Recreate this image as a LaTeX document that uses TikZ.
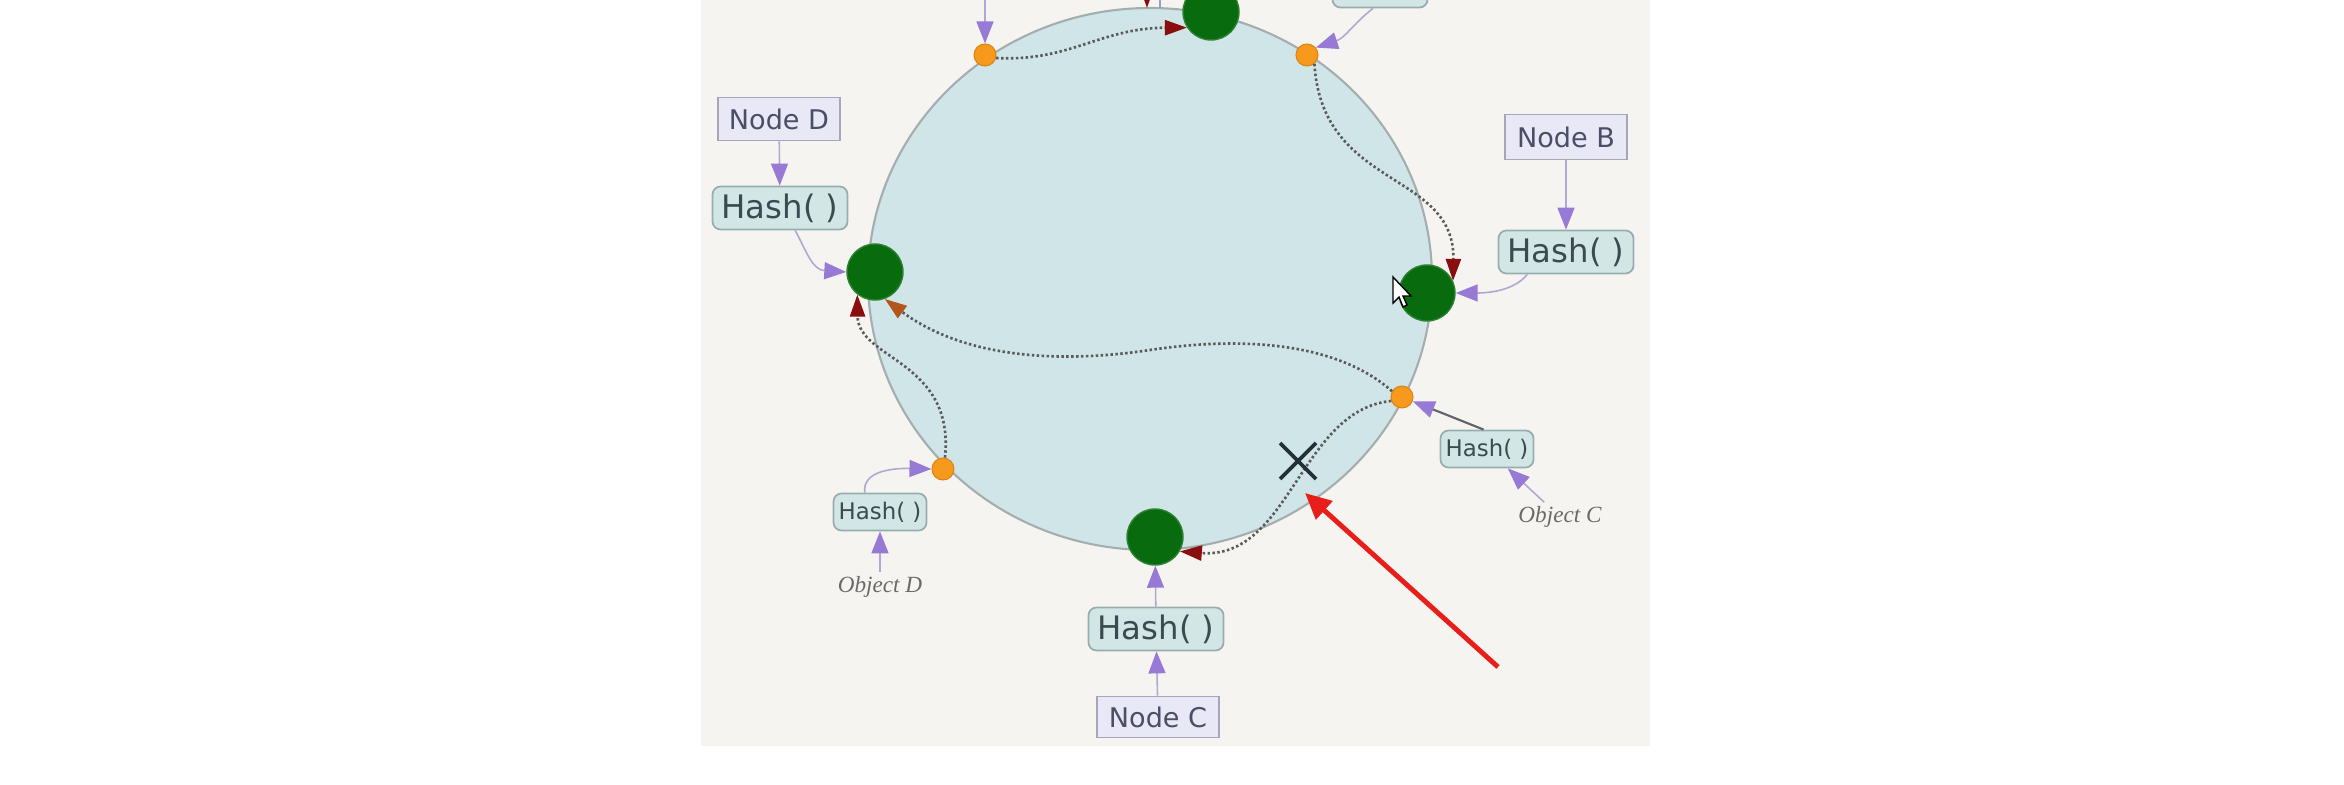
\documentclass[tikz,border=0pt]{standalone}
\usepackage{fontspec}
\setmainfont{DejaVu Sans}
\newfontfamily\objfont{Liberation Serif}
\usetikzlibrary{arrows.meta}
\definecolor{panel}{HTML}{F6F4F0}
\definecolor{ringfill}{HTML}{CFE5E7}
\definecolor{ringline}{HTML}{A4AEAE}
\definecolor{servergreen}{HTML}{086B0E}
\definecolor{keyorange}{HTML}{F7991C}
\definecolor{keyedge}{HTML}{DC8412}
\definecolor{nodefill}{HTML}{E8E8F7}
\definecolor{boxline}{HTML}{A6A6B8}
\definecolor{nodetext}{HTML}{4A4E66}
\definecolor{hashfill}{HTML}{D2E6E6}
\definecolor{hashline}{HTML}{98AEAE}
\definecolor{hashtext}{HTML}{3B4A50}
\definecolor{feedline}{HTML}{B2A6D2}
\definecolor{feedtip}{HTML}{9779D6}
\definecolor{darkfeed}{HTML}{606468}
\definecolor{walkline}{HTML}{5A5A5A}
\definecolor{walktip}{HTML}{8B0E0E}
\definecolor{rusttip}{HTML}{B3561B}
\definecolor{stubblue}{HTML}{8FA4C0}
\definecolor{objtext}{HTML}{6A6A6A}
\definecolor{cutcolor}{HTML}{243038}
\definecolor{pointred}{HTML}{E81E1A}
\begin{document}
\begin{tikzpicture}[x=0.1mm,y=-0.1mm,
    nodebox/.style={draw=boxline, fill=nodefill, text=nodetext, line width=0.5pt,
      minimum width=12.2mm, minimum height=4.3mm, inner sep=0pt, font=\fontsize{7.7}{9}\selectfont},
    hashbox/.style={draw=hashline, fill=hashfill, text=hashtext, line width=0.5pt, rounded corners=0.8mm,
      minimum width=13.5mm, minimum height=4.3mm, inner sep=0pt, font=\fontsize{9.2}{11}\selectfont},
    smallhash/.style={hashbox, minimum width=9.3mm, minimum height=3.7mm, font=\fontsize{6.5}{8}\selectfont},
    serverdot/.style={circle, fill=servergreen, draw=servergreen!85!white, minimum size=5.6mm, inner sep=0pt},
    keydot/.style={circle, fill=keyorange, draw=keyedge, line width=0.3pt, minimum size=2.2mm, inner sep=0pt},
    objlabel/.style={text=objtext, inner sep=1pt, font=\objfont\itshape\fontsize{6.6}{8}\selectfont},
    feed/.style={draw=feedline, line width=0.45pt, -{Triangle[length=2.2mm,width=1.7mm,color=feedtip]}},
    walk/.style={draw=walkline, line width=0.75pt, dash pattern=on 0.7pt off 0.7pt,
      -{Triangle[length=2.2mm,width=1.5mm,color=walktip]}},
    cutmark/.style={draw=cutcolor, line width=1.1pt},
    pointarrow/.style={draw=pointred, line width=1.4pt, -{Triangle[length=2.6mm,width=2.4mm,color=pointred]}}]
  \useasboundingbox (0,0) rectangle (2344,785);
  \clip (0,0) rectangle (2344,785);
  \fill[white] (0,0) rectangle (2344,785);
  \fill[panel] (701,0) rectangle (1650,746);
  % the ring
  \draw[fill=ringfill, draw=ringline, line width=0.6pt] (1150,279) ellipse [x radius=282, y radius=271];
  % servers on the ring
  \node[serverdot] (gA) at (1211,12) {};
  \node[serverdot] (gB) at (1427,293) {};
  \node[serverdot] (gC) at (1155,537) {};
  \node[serverdot] (gD) at (875,272) {};
  % objects on the ring
  \node[keydot] (oA) at (985,55) {};
  \node[keydot] (oB) at (1307,55) {};
  \node[keydot] (oC) at (1402,397) {};
  \node[keydot] (oD) at (943,469) {};
  % boxes
  \node[nodebox] (nodeD) at (779,119) {Node D};
  \node[hashbox] (hashD) at (780,208) {Hash( )};
  \node[nodebox, minimum height=4.5mm] (nodeB) at (1566,137) {Node B};
  \node[hashbox] (hashB) at (1566,252) {Hash( )};
  \node[hashbox] (hashC) at (1156,629) {Hash( )};
  \node[nodebox, minimum height=4.1mm] (nodeC) at (1158,717) {Node C};
  \node[smallhash] (hashDs) at (880,512) {Hash( )};
  \node[objlabel] (objD) at (880,587) {Object D};
  \node[smallhash] (hashCs) at (1487,449) {Hash( )};
  \node[objlabel] (objC) at (1560,517) {Object C};
  \node[smallhash, minimum width=9.5mm] (hashBs) at (1380,-11) {Hash( )};
  \coordinate (topA) at (985,-10);
  \coordinate (stubR) at (1147,-20);
  \coordinate (stubRend) at (1147,8);
  \coordinate (stubB) at (1160,-20);
  \coordinate (stubBend) at (1160,8);
  % hashing
  \draw[feed] (nodeD) -- (hashD);
  \draw[feed] (hashD.-56) .. controls (806,250) and (812,270) .. (gD.west);
  \draw[feed] (nodeB) -- (hashB);
  \draw[feed] (hashB.-150) .. controls (1515,290) and (1490,293) .. (gB.east);
  \draw[feed] (nodeC) -- (hashC);
  \draw[feed] (hashC) -- (gC);
  \draw[feed] (objD) -- (hashDs);
  \draw[feed] (hashDs.128) .. controls (862,472) and (890,468) .. (oD.west);
  \draw[feed] (objC) -- (hashCs);
  \draw[feed, draw=darkfeed, line width=0.6pt] (hashCs.100) -- (oC);
  \draw[feed] (hashBs.-110) .. controls (1352,25) and (1345,38) .. (oB.40);
  \draw[feed] (topA) -- (oA);
  \draw[walk] (stubR) -- (stubRend);
  \draw[draw=stubblue, line width=0.8pt] (stubB) -- (stubBend);
  % clockwise walk to the next server
  \draw[walk] (oA.-15) .. controls (1070,62) and (1100,28) .. (gA.213);
  \draw[walk] (oB.-50) .. controls (1322,190) and (1455,170) .. (gB.25);
  \draw[walk, -{Triangle[length=2.2mm,width=1.5mm,color=rusttip]}] (oC.150)
    .. controls (1340,345) and (1250,335) .. (1150,350)
    .. controls (1050,365) and (960,355) .. (gD.-70);
  \draw[walk] (oD.80) .. controls (955,360) and (858,360) .. (gD.-128);
  \draw[walk] (oC.200) .. controls (1300,410) and (1290,560) .. (gC.-30);
  % removed server
  \draw[cutmark] (1280,443) -- (1316,479) (1316,443) -- (1280,479);
  \coordinate (pointer) at (1498,667);
  \coordinate (pointee) at (1305,493);
  \draw[pointarrow] (pointer) -- (pointee);
  % mouse cursor
  \draw[fill=white, draw=black, line width=0.4pt, shift={(1393,277)}]
    (0,0) -- (0,26) -- (6,20) -- (10,30) -- (14,28) -- (10,19) -- (18,19) -- cycle;
\end{tikzpicture}
\end{document}
